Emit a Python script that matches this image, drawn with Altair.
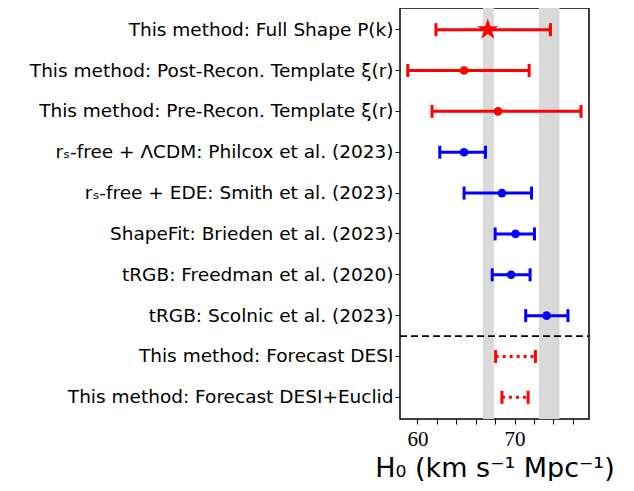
import altair as alt
import pandas as pd

labels = [
    "This method: Full Shape P(k)",
    "This method: Post-Recon. Template ξ(r)",
    "This method: Pre-Recon. Template ξ(r)",
    "rₛ-free + ΛCDM: Philcox et al. (2023)",
    "rₛ-free + EDE: Smith et al. (2023)",
    "ShapeFit: Brieden et al. (2023)",
    "tRGB: Freedman et al. (2020)",
    "tRGB: Scolnic et al. (2023)",
    "This method: Forecast DESI",
    "This method: Forecast DESI+Euclid",
]
centers = [67.24, 64.8, 68.3, 64.8, 68.7, 70.1, 69.65, 73.3, None, None]
lows = [61.9, 59.0, 61.5, 62.3, 64.8, 68.0, 67.7, 71.15, 68.05, 68.7]
highs = [73.7, 71.5, 76.85, 67.0, 71.75, 72.05, 71.6, 75.5, 72.15, 71.4]
groups = ["this", "this", "this", "ext", "ext", "ext", "ext", "ext", "forecast", "forecast"]
markers = ["star", "circle", "circle", "circle", "circle", "circle", "circle", "circle", "none", "none"]

band_lo = [66.74, 72.5]
band_hi = [67.87, 74.63]
separator_before = labels[8]
x_domain = [58.2, 77.67]
x_tick_values = [58, 60, 62, 64, 66, 68, 70, 72, 74, 76]

STAR_PATH = ("M0,-1L0.2245,-0.309L0.951,-0.309L0.363,0.118L0.588,0.809L0,0.382"
             "L-0.588,0.809L-0.363,0.118L-0.951,-0.309L-0.2245,-0.309Z")

df = pd.DataFrame({
    "label": labels,
    "c": centers,
    "lo": lows,
    "hi": highs,
    "g": groups,
    "m": markers,
})
bands = pd.DataFrame({"lo": band_lo, "hi": band_hi})
sep_df = pd.DataFrame({"label": [separator_before], "x0": [x_domain[0]], "x1": [x_domain[1]]})

xaxis = alt.Axis(
    title="H₀ (km s⁻¹ Mpc⁻¹)",
    values=x_tick_values,
    labelExpr="datum.value % 10 == 0 ? datum.label : ''",
    tickSize=5,
    tickColor="black",
    labelFont="Liberation Serif",
    labelFontSize=21,
    labelColor="black",
    labelPadding=4,
    titleFont="DejaVu Sans",
    titleFontSize=27,
    titleFontWeight="normal",
    titleColor="black",
    titlePadding=6,
    domain=False,
    grid=False,
)
yaxis = alt.Axis(
    title=None,
    tickSize=5,
    tickColor="black",
    labelFont="DejaVu Sans",
    labelFontSize=18.5,
    labelColor="black",
    labelLimit=500,
    domain=False,
    grid=False,
)
xscale = alt.Scale(domain=x_domain, nice=False, zero=False)
yscale = alt.Scale(domain=labels, type="band", paddingInner=0, paddingOuter=0.03)
cscale = alt.Scale(domain=["this", "ext", "forecast"], range=["#ff0000", "#0000ff", "#ff0000"])


def Y(**kw):
    return alt.Y("label:N", scale=yscale, axis=yaxis, sort=labels, **kw)


def C():
    return alt.Color("g:N", scale=cscale, legend=None)


base = alt.Chart(df)

band_layer = alt.Chart(bands).mark_rect(color="#d9d9d9").encode(
    x=alt.X("lo:Q", scale=xscale, axis=xaxis),
    x2="hi:Q",
)

solid = base.transform_filter("datum.g != 'forecast'").mark_rule(strokeWidth=3).encode(
    x=alt.X("lo:Q", scale=xscale, axis=xaxis),
    x2="hi:Q",
    y=Y(),
    color=C(),
)

dotted = base.transform_filter("datum.g == 'forecast'").mark_rule(
    strokeWidth=3, strokeDash=[3, 4]
).encode(
    x=alt.X("lo:Q", scale=xscale, axis=xaxis),
    x2="hi:Q",
    y=Y(),
    color=C(),
)

caps = base.transform_fold(["lo", "hi"], as_=["end", "xv"]).mark_tick(
    orient="vertical", size=13, thickness=3, opacity=1
).encode(
    x=alt.X("xv:Q", scale=xscale, axis=xaxis),
    y=Y(),
    color=C(),
)

circles = base.transform_filter("datum.m == 'circle'").mark_circle(size=75, opacity=1).encode(
    x=alt.X("c:Q", scale=xscale, axis=xaxis),
    y=Y(),
    color=C(),
)

sep = alt.Chart(sep_df).mark_rule(
    color="black", strokeWidth=1.8, strokeDash=[7, 4]
).encode(
    x=alt.X("x0:Q", scale=xscale, axis=xaxis),
    x2="x1:Q",
    y=Y(bandPosition=0),
)

star = base.transform_filter("datum.m == 'star'").mark_point(
    shape=STAR_PATH, filled=True, size=500, opacity=1, strokeWidth=0
).encode(
    x=alt.X("c:Q", scale=xscale, axis=xaxis),
    y=Y(),
    color=C(),
)

chart = alt.layer(band_layer, solid, dotted, caps, circles, sep, star).properties(
    width=189,
    height=411,
    padding={"left": 21, "top": 0, "right": 5, "bottom": 0},
).configure_view(stroke="black", strokeWidth=1.5)

chart.save("out.html", embed_options={"renderer": "svg", "actions": False})
